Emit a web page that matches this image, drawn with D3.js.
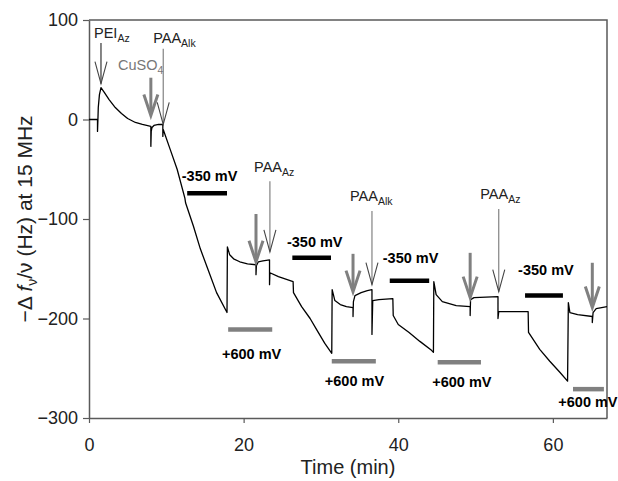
<!DOCTYPE html>
<html>
<head>
<meta charset="utf-8">
<script src="https://cdn.jsdelivr.net/npm/d3@7"></script>
<style>
    body { margin: 0; background: #fff; }
    svg { font-family: "Liberation Sans", Arial, sans-serif; }
</style>
</head>
<body>
<div id="chart"></div>
<script>
// QCM trace
const timeMin = [0, 1.1, 1.1, 1.15, 1.2, 1.35, 1.55, 2.0, 2.6, 3.4, 4.2, 5.0, 6.0, 6.9, 8.0,
    8.0, 8.05, 8.15, 8.4, 9.0, 9.55, 9.55, 9.6,
    10.5, 11.4, 12.4, 12.5, 13.5, 14.4, 15.5, 16.5, 17.85,
    17.9, 18.2, 18.7, 19.5, 20.5, 21.6,
    21.6, 21.65, 21.9, 22.5, 23.35,
    23.35, 23.4, 24.5, 26.4,
    26.45, 27.5, 28.6, 29.5, 30.5, 31.4,
    31.45, 31.8, 32.5, 33.3, 34.15,
    34.15, 34.2, 34.4, 35.2, 36.0, 36.6,
    36.6, 36.7, 37.5, 39.3,
    39.35, 40.0, 41.4, 42.8, 44.3, 44.55,
    44.6, 44.9, 45.7, 47.5, 49.3,
    49.3, 49.35, 49.8, 52.9,
    52.9, 53.0, 56.8,
    56.85, 58.3, 59.6, 60.9, 61.9,
    62.0, 62.2, 63.2, 65.1,
    65.1, 65.2, 65.6, 66.3, 67];
const deltaF = [0, 0, -12, -1, 12, 25, 32, 27, 20, 12, 6, 1, -3, -5, -7,
    -27, -12, -8, -6, -5, -5, -17, -10,
    -30, -50, -79, -84, -107, -130, -153, -174, -194,
    -128, -136, -140, -143, -145, -146,
    -156, -147, -143, -142, -141,
    -166, -154, -158, -163,
    -174, -188, -200, -212, -225, -235,
    -171, -182, -186, -188, -189,
    -198, -183, -177, -174, -172, -171,
    -216, -182, -181, -180,
    -197, -206, -214, -223, -232, -234,
    -163, -176, -183, -187, -188,
    -197, -181, -179, -178,
    -200, -193, -193,
    -214, -231, -243, -254, -263,
    -184, -194, -196, -198,
    -204, -194, -190, -189, -188];

const xTicks = [0, 20, 40, 60];
const yTicks = [-300, -200, -100, 0, 100];

// additions: time, arrow top, arrow tip (Hz), label and where the label sits
const additions = [
    { kind: "polymer", name: "PEI", sub: "Az", t: 1.55, top: 77, tip: 36, lt: 0.65, lv: 82 },
    { kind: "cu", name: "CuSO", sub: "4", t: 8.0, top: 42, tip: 4, lt: 3.75, lv: 50 },
    { kind: "polymer", name: "PAA", sub: "Alk", t: 9.6, top: 71, tip: -5, lt: 8.3, lv: 77 },
    { kind: "cu", name: "", sub: "", t: 21.6, top: -95, tip: -143 },
    { kind: "polymer", name: "PAA", sub: "Az", t: 23.4, top: -62, tip: -133, lt: 21.35, lv: -53 },
    { kind: "cu", name: "", sub: "", t: 34.15, top: -135, tip: -173 },
    { kind: "polymer", name: "PAA", sub: "Alk", t: 36.6, top: -92, tip: -166, lt: 33.75, lv: -82 },
    { kind: "cu", name: "", sub: "", t: 49.3, top: -134, tip: -179 },
    { kind: "polymer", name: "PAA", sub: "Az", t: 53.0, top: -90, tip: -173, lt: 50.6, lv: -80 },
    { kind: "cu", name: "", sub: "", t: 65.1, top: -144, tip: -189 }
];

// applied potential periods: start, end, level of bar, label position
const reduceSteps = [
    { t0: 12.7, t1: 17.85, v: -74, lt: 12.0, lv: -62 },
    { t0: 26.3, t1: 31.3, v: -139, lt: 25.6, lv: -128 },
    { t0: 38.9, t1: 44.0, v: -162, lt: 38.0, lv: -144 },
    { t0: 56.4, t1: 61.3, v: -177, lt: 55.5, lv: -156 }
];
const oxidSteps = [
    { t0: 18.0, t1: 23.7, v: -211, lt: 17.2, lv: -241 },
    { t0: 31.4, t1: 37.1, v: -243, lt: 30.5, lv: -268 },
    { t0: 45.1, t1: 50.7, v: -244, lt: 44.4, lv: -269 },
    { t0: 62.6, t1: 66.6, v: -271, lt: 60.7, lv: -289 }
];

function buildChart() {
    const W = 618, H = 481;
    const margin = { top: 20, right: 11, bottom: 63, left: 89 };
    const width = W - margin.left - margin.right;
    const height = H - margin.top - margin.bottom;
    const axisColor = "#5a5a5a";
    const gray = "#808080";

    const svg = d3.select("#chart").append("svg")
        .attr("width", W)
        .attr("height", H);

    const g = svg.append("g")
        .attr("transform", "translate(" + margin.left + "," + margin.top + ")");

    const x = d3.scaleLinear().domain([0, 67]).range([0, width]);
    const y = d3.scaleLinear().domain([-300, 100]).range([height, 0]);

    // frame (top + right)
    g.append("path")
        .attr("d", "M0,0H" + width + "V" + height)
        .attr("fill", "none")
        .attr("stroke", axisColor)
        .attr("stroke-width", 1.5);

    const xAxis = g.append("g")
        .attr("transform", "translate(0," + height + ")")
        .call(d3.axisBottom(x).tickValues(xTicks).tickSize(5).tickPadding(15).tickSizeOuter(0));
    const yAxis = g.append("g")
        .call(d3.axisLeft(y).tickValues(yTicks).tickSize(6).tickPadding(5).tickSizeOuter(0));

    [xAxis, yAxis].forEach(a => {
        a.select(".domain").attr("stroke", axisColor).attr("stroke-width", 1.5);
        a.selectAll(".tick line").attr("stroke", axisColor).attr("stroke-width", 1.2);
        a.selectAll(".tick text")
            .attr("fill", "#222")
            .style("font-size", "18px")
            .style("font-family", "Liberation Sans, Arial, sans-serif");
    });

    // trace
    const pts = timeMin.map((t, i) => [t, deltaF[i]]);
    const line = d3.line().x(d => x(d[0])).y(d => y(d[1]));
    g.append("path")
        .datum(pts)
        .attr("d", line)
        .attr("fill", "none")
        .attr("stroke", "#000")
        .attr("stroke-width", 1.3)
        .attr("stroke-linejoin", "round");

    // potential bars
    reduceSteps.forEach(s => {
        g.append("line")
            .attr("x1", x(s.t0)).attr("x2", x(s.t1))
            .attr("y1", y(s.v)).attr("y2", y(s.v))
            .attr("stroke", "#000").attr("stroke-width", 4.5);
        g.append("text")
            .attr("x", x(s.lt)).attr("y", y(s.lv))
            .attr("font-weight", "bold").attr("font-size", 14.5)
            .text("-350 mV");
    });
    oxidSteps.forEach(s => {
        g.append("line")
            .attr("x1", x(s.t0)).attr("x2", x(s.t1))
            .attr("y1", y(s.v)).attr("y2", y(s.v))
            .attr("stroke", gray).attr("stroke-width", 4.5);
        g.append("text")
            .attr("x", x(s.lt)).attr("y", y(s.lv))
            .attr("font-weight", "bold").attr("font-size", 14.5)
            .text("+600 mV");
    });

    // arrows
    additions.forEach(a => {
        const cu = a.kind === "cu";
        const ax = x(a.t), y0 = y(a.top), y1 = y(a.tip);
        const hw = cu ? 7 : 6, hl = cu ? 21 : 22;
        const col = cu ? gray : (a.name === "PEI" ? "#222" : "#777");
        g.append("line")
            .attr("x1", ax).attr("x2", ax)
            .attr("y1", y0).attr("y2", y1 - (cu ? 2 : 0))
            .attr("stroke", col).attr("stroke-width", cu ? 3 : 1.1);
        g.append("path")
            .attr("d", "M" + (ax - hw) + "," + (y1 - hl) + "L" + ax + "," + y1 + "L" + (ax + hw) + "," + (y1 - hl))
            .attr("fill", "none")
            .attr("stroke", cu ? gray : "#444")
            .attr("stroke-width", cu ? 3 : 1.1)
            .attr("stroke-linejoin", "miter");

        if (a.name) {
            const txt = g.append("text")
                .attr("x", x(a.lt)).attr("y", y(a.lv))
                .attr("fill", cu ? "#777" : "#222")
                .attr("font-size", 14.5);
            txt.append("tspan").text(a.name);
            txt.append("tspan")
                .attr("dy", 4)
                .attr("font-size", 10.5)
                .text(a.sub);
        }
    });

    // axis titles
    svg.append("text")
        .attr("x", margin.left + width / 2)
        .attr("y", 474)
        .attr("text-anchor", "middle")
        .attr("font-size", 20)
        .attr("fill", "#222")
        .text("Time (min)");

    const yt = svg.append("text")
        .attr("transform", "translate(32," + (margin.top + height / 2) + ") rotate(-90)")
        .attr("text-anchor", "middle")
        .attr("font-size", 21)
        .attr("fill", "#222");
    yt.append("tspan").text("\u2212\u0394 ");
    yt.append("tspan").attr("font-style", "italic").text("f");
    yt.append("tspan").attr("dy", 5).attr("font-size", 14).text("\u03bd");
    yt.append("tspan").attr("dy", -5).text("/\u03bd (Hz) at 15 MHz");
}

buildChart();
</script>
</body>
</html>
